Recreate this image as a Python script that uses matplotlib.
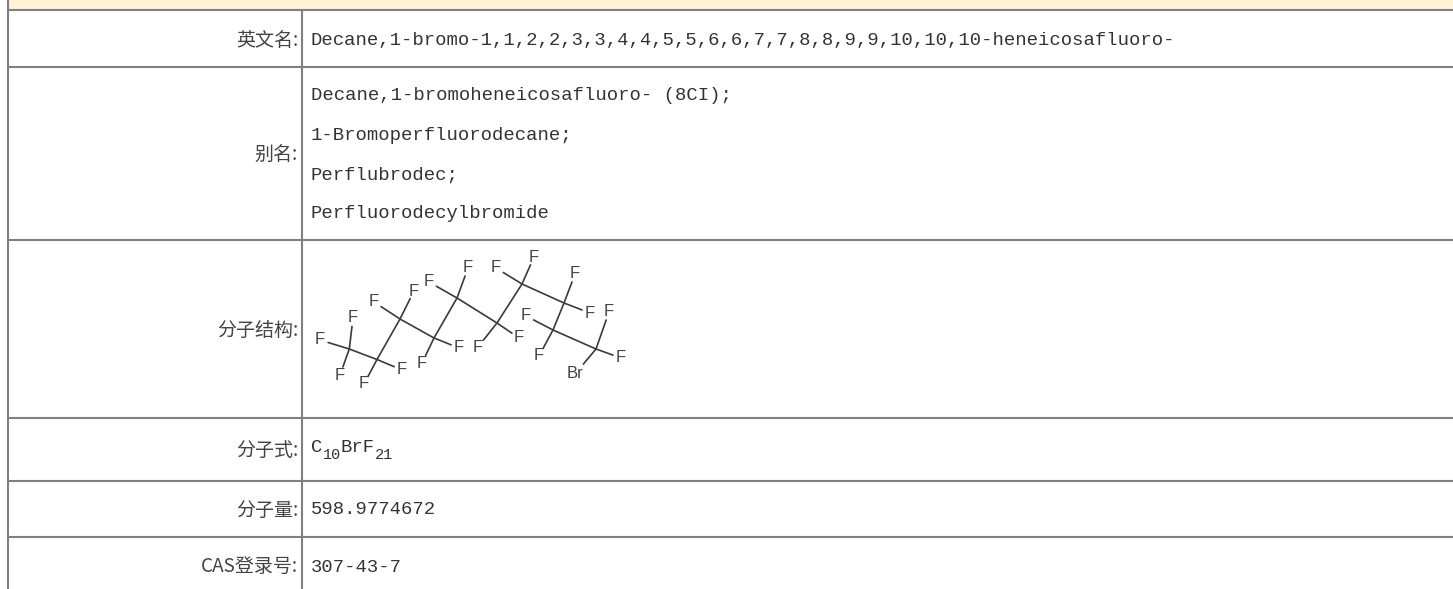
import matplotlib
matplotlib.use("Agg")
import matplotlib.pyplot as plt
from matplotlib.patches import Rectangle

W, H = 1453, 589
CJK = ['Noto Sans CJK SC', 'DejaVu Sans']
MONO = ['Liberation Mono', 'Noto Sans CJK SC']

row_labels = ['英文名:', '别名:', '分子结构:', '分子式:', '分子量:', 'CAS登录号:']
row_label_y = [40, 155, 331, 450, 510, 566]
row_lines = [10, 67, 240, 418, 481, 537]
english = 'Decane,1-bromo-1,1,2,2,3,3,4,4,5,5,6,6,7,7,8,8,9,9,10,10,10-heneicosafluoro-'
aliases = ['Decane,1-bromoheneicosafluoro- (8CI);', '1-Bromoperfluorodecane;', 'Perflubrodec;', 'Perfluorodecylbromide']
alias_y = [96, 136, 175, 214]
mass = '598.9774672'
cas = '307-43-7'

# skeleton atoms of the structure drawing (image pixels)
carbons = [(349.3, 349), (377, 359.5), (400, 319), (434, 338), (457, 298),
           (497, 323), (522, 284), (564, 303), (553, 330), (596, 349)]
bonds = [(0, 1), (1, 2), (2, 3), (3, 4), (4, 5), (5, 6), (6, 7), (7, 8), (8, 9)]
atoms = [('F', 320, 340, 0), ('F', 353, 318, 0), ('F', 340, 375, 0),
         ('F', 364, 384, 1), ('F', 402, 370, 1),
         ('F', 374, 302, 2), ('F', 414, 291, 2),
         ('F', 422, 363, 3), ('F', 459, 348, 3),
         ('F', 429, 282, 4), ('F', 468, 268, 4),
         ('F', 478, 347, 5), ('F', 519, 338, 5),
         ('F', 496, 268, 6), ('F', 534, 257, 6),
         ('F', 575, 274, 7), ('F', 590, 313, 7),
         ('F', 526, 316, 8), ('F', 539, 356, 8),
         ('F', 609, 312, 9), ('F', 621, 358, 9), ('Br', 575, 374, 9)]

fig = plt.figure(figsize=(W / 100, H / 100), dpi=100, facecolor='white')
ax = fig.add_axes([0, 0, 1, 1])
ax.set_xlim(0, W)
ax.set_ylim(H, 0)
ax.axis('off')

ax.add_patch(Rectangle((8, 0), W - 8, 10, fc='#FFF4D6', ec='none'))
line = dict(color='#808080', lw=1.5, solid_capstyle='butt')
for y in row_lines:
    ax.plot([8, W], [y, y], **line)
ax.plot([8, 8], [0, H], **line)
ax.plot([302, 302], [10, H], **line)

for lab, y in zip(row_labels, row_label_y):
    ax.text(298, y, lab, ha='right', va='center', fontsize=13.7, family=CJK, color='#444444')

txt = dict(ha='left', va='center', fontsize=13.55, family=MONO, color='#333333')
sub = {**txt, 'fontsize': 11}
ax.text(311, 41, english, **txt)
for a, y in zip(aliases, alias_y):
    ax.text(311, y, a, **txt)
ax.text(311, 510, mass, **txt)
ax.text(311, 567, cas, **txt)
ax.text(311, 448, 'C', **txt)
ax.text(323, 455, '10', **sub)
ax.text(341, 448, 'BrF', **txt)
ax.text(375, 455, '21', **sub)

bond_style = dict(color='#3a3a3a', lw=1.2, solid_capstyle='round')
for a, b in bonds:
    ax.plot([carbons[a][0], carbons[b][0]], [carbons[a][1], carbons[b][1]], **bond_style)
for label, x, y, c in atoms:
    cx, cy = carbons[c]
    dx, dy = x - cx, y - cy
    d = (dx ** 2 + dy ** 2) ** 0.5
    gap = 13 if label == 'Br' else 8.5
    f = (d - gap) / d
    ax.plot([cx, cx + dx * f], [cy, cy + dy * f], **bond_style)
    ax.text(x, y, label, ha='center', va='center', fontsize=12,
            family='Liberation Sans', color='#444444')

fig.savefig('out.png', dpi=100)
